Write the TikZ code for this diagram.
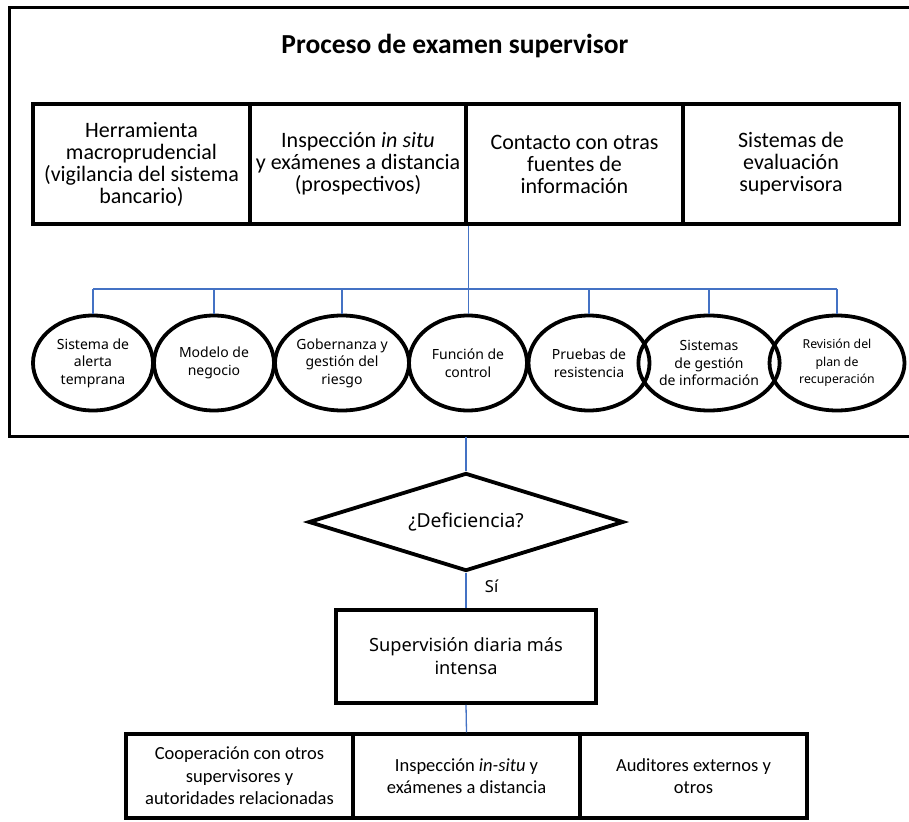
\documentclass[tikz,border=0pt]{standalone}
\usepackage{fontspec}
\setmainfont{Carlito}
\newfontfamily\segoe{Noto Sans}
\usetikzlibrary{shapes.geometric}
\definecolor{linkblue}{RGB}{68,114,196}
\begin{document}
\begin{tikzpicture}[x=1pt,y=-1pt,
  topbox/.style={draw,line width=3.5pt,rectangle,inner sep=0pt,align=center,minimum width=217pt,minimum height=120pt,font=\fontsize{22}{22}\selectfont},
  botbox/.style={draw,line width=3.5pt,rectangle,inner sep=0pt,align=center,minimum width=227pt,minimum height=84pt,font=\fontsize{18.5}{22.5}\selectfont},
  ell/.style={draw,line width=3.8pt,ellipse,inner sep=0pt,minimum height=95pt,align=center,font=\segoe\fontsize{14}{17.5}\selectfont},
  link/.style={draw=linkblue,line width=1.3pt}]
\useasboundingbox (0,0) rectangle (909,821);
% outer frame
\draw[line width=3pt] (912,8) -- (9,8) -- (9,436) -- (912,436);
\coordinate (frameb) at (466,437);
\node[font=\bfseries\fontsize{27.5}{30}\selectfont] (title) at (455,46) {Proceso de examen supervisor};
% top boxes
\node[topbox] (t1) at (141.5,164) {Herramienta\\macroprudencial\\(vigilancia del sistema\\bancario)};
\node[topbox] (t2) at (358,164) {Inspección \textit{in situ}\\y exámenes a distancia\\(prospectivos)};
\node[topbox] (t3) at (574.5,164) {Contacto con otras\\fuentes de\\información};
\node[topbox] (t4) at (791,164) {Sistemas de\\evaluación\\supervisora};
% ellipses
\node[ell,minimum width=120pt] (e1) at (93,363) {Sistema de\\alerta\\temprana};
\node[ell,minimum width=120pt] (e2) at (214,363) {Modelo de\\negocio};
\node[ell,minimum width=134pt] (e3) at (342,363) {Gobernanza y\\gestión del\\riesgo};
\node[ell,minimum width=118pt] (e4) at (468,363) {Función de\\control};
\node[ell,minimum width=121pt] (e5) at (589,363) {Pruebas de\\resistencia};
\node[ell,minimum width=118pt] (e6) at (709,363) {Sistemas\\de gestión\\de información};
\node[ell,minimum width=135pt,font=\segoe\fontsize{12.3}{17.5}\selectfont] (e7) at (837,363) {Revisión del\\plan de\\recuperación};
% bus
\coordinate (bus) at (0,289);
\draw[link] (t2.south east) -- (t2.south east |- e4.north);
\draw[link] (e1.north |- bus) -- (e7.north |- bus);
\foreach \e in {e1,e2,e3,e5,e6,e7} \draw[link] (\e.north |- bus) -- (\e.north);
% decision
\node[draw,diamond,aspect=3.2,line width=3.8pt,inner sep=0pt,minimum width=315pt,minimum height=98pt,font=\segoe\fontsize{19.3}{22}\selectfont] (d) at (466,522) {¿Deficiencia?};
\draw[link] (frameb) -- (d.north);
\node[draw,line width=3.5pt,rectangle,inner sep=0pt,align=center,minimum width=260pt,minimum height=93pt,font=\segoe\fontsize{18.2}{23}\selectfont] (s) at (466,656.5) {Supervisión diaria más\\intensa};
\draw[link] (d.south) -- node[pos=0.38,right,xshift=15pt,font=\segoe\fontsize{16.5}{18}\selectfont,text=black] (si) {Sí} (s.north);
% bottom boxes
\node[botbox] (b1) at (239.5,776) {Cooperación con otros\\supervisores y\\autoridades relacionadas};
\node[botbox] (b2) at (466.5,776) {Inspección \textit{in-situ} y\\exámenes a distancia};
\node[botbox] (b3) at (693.5,776) {Auditores externos y\\otros};
\draw[link] (s.south) -- (b2.north);
\end{tikzpicture}
\end{document}
